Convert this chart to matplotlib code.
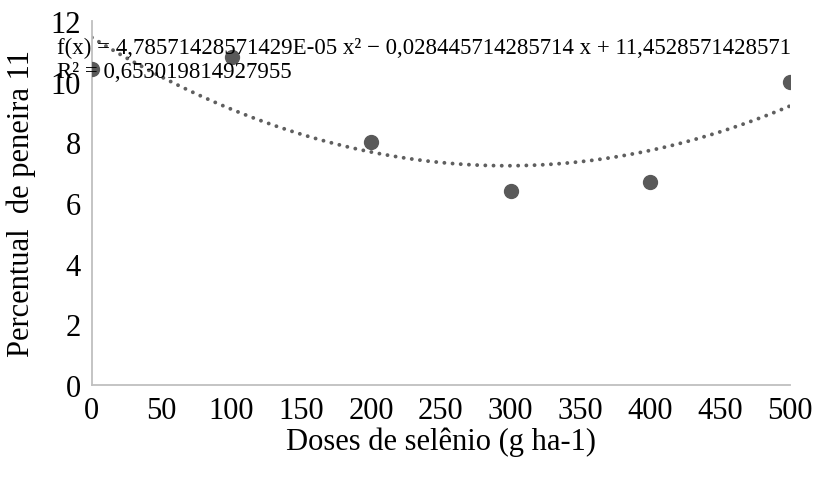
import numpy as np
import matplotlib.pyplot as plt

# Data
doses = [0, 100, 200, 300, 400, 500]
peneira11 = [10.4, 10.8, 8.0, 6.4, 6.7, 10.0]

# Trendline coefficients as printed on the chart (a, b, c for a*x^2 + b*x + c)
coef = [4.78571428571429e-05, -0.028445714285714, 11.4528571428571]
eq_text = "f(x) = 4,78571428571429E-05 x² − 0,028445714285714 x + 11,4528571428571"
r2_text = "R² = 0,653019814927955"

x_ticks = [0, 50, 100, 150, 200, 250, 300, 350, 400, 450, 500]
y_ticks = [0, 2, 4, 6, 8, 10, 12]

plt.rcParams['font.family'] = ['Liberation Serif', 'DejaVu Serif']

fig = plt.figure(figsize=(8.28, 4.81), dpi=100)
ax = fig.add_axes([0.111, 0.1975, 0.843, 0.757])

# trendline (dotted)
xs = np.linspace(0, 500, 300)
ax.plot(xs, np.polyval(coef, xs), color='#5f5f5f', linestyle=(0, (0.01, 2.1)),
        linewidth=2.8, dash_capstyle='round', zorder=2)

# points
ax.plot(doses, peneira11, 'o', color='#595959', markersize=10, zorder=3)

ax.set_xlim(0, 500)
ax.set_ylim(0, 12)
ax.set_xticks(x_ticks)
ax.set_yticks(y_ticks)
ax.tick_params(length=0, labelsize=22, colors='black')
ax.tick_params(axis='x', pad=8)
ax.tick_params(axis='y', pad=8)

for s in ['top', 'right']:
    ax.spines[s].set_visible(False)
for s in ['left', 'bottom']:
    ax.spines[s].set_color('#bfbfbf')
    ax.spines[s].set_linewidth(1.3)

ax.set_xlabel("Doses de selênio (g ha-1)", fontsize=22, labelpad=1)
ax.set_ylabel("Percentual  de peneira 11", fontsize=22, labelpad=10)

fig.text(57 / 828, 1 - 48 / 481, eq_text, fontsize=16.5, va='center', ha='left')
fig.text(57 / 828, 1 - 72 / 481, r2_text, fontsize=16.5, va='center', ha='left')

fig.savefig("out.png", dpi=100)
